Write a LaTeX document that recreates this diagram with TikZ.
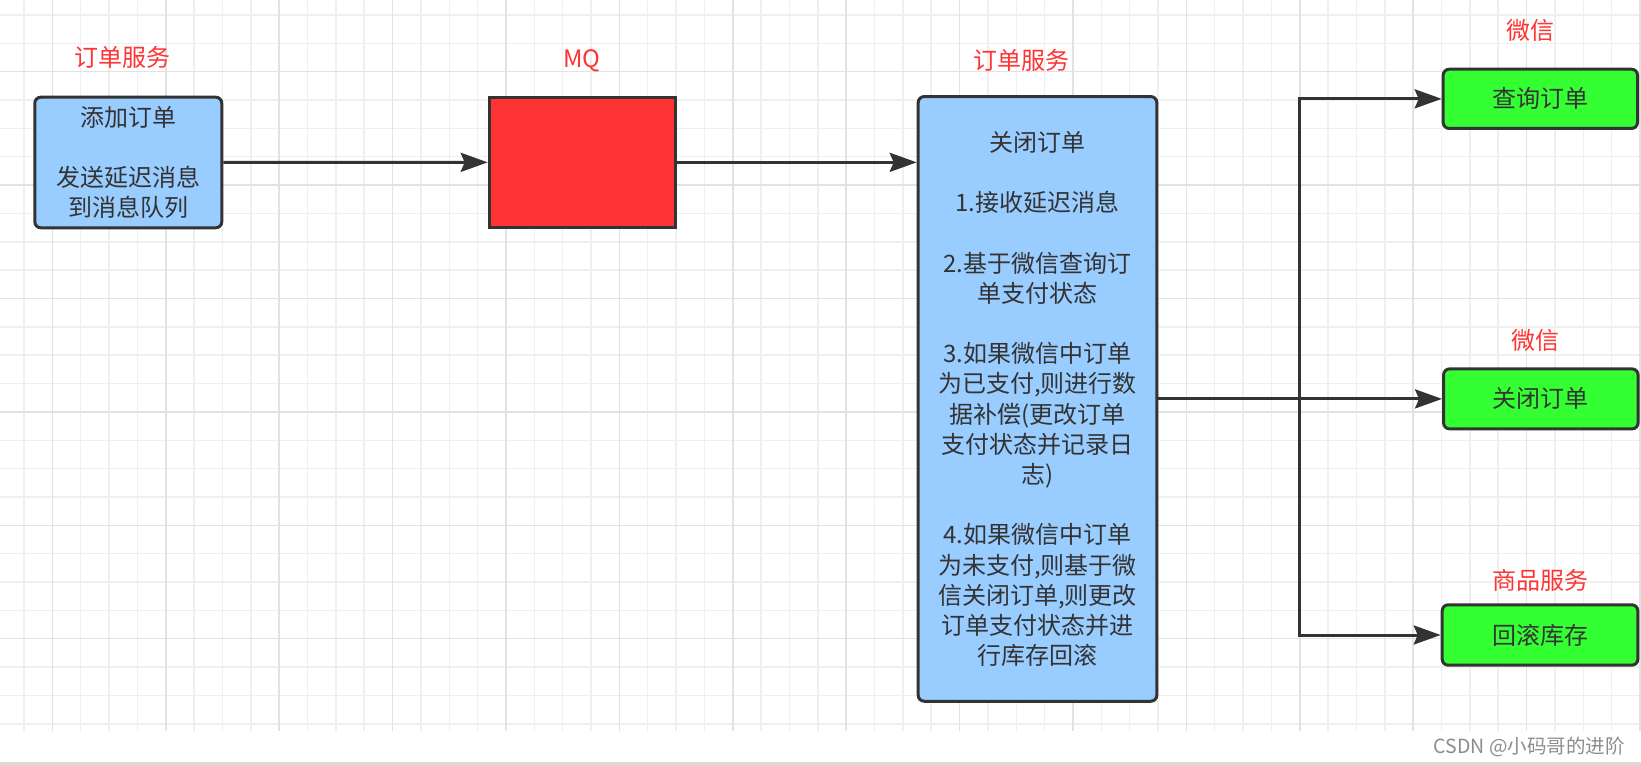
\documentclass[tikz,border=0pt]{standalone}
\usepackage{fontspec}
\setmainfont{Noto Sans CJK SC}
\usetikzlibrary{arrows.meta}
\definecolor{gridminor}{HTML}{EFEFEF}
\definecolor{gridmajor}{HTML}{E2E2E2}
\definecolor{strokecol}{HTML}{333333}
\definecolor{lblred}{HTML}{FF3333}
\definecolor{boxblue}{HTML}{99CCFF}
\definecolor{boxgreen}{HTML}{33FF33}
\definecolor{mqred}{HTML}{FF3333}
\definecolor{wmgray}{HTML}{8C8C8C}
\definecolor{bottomline}{HTML}{DADADA}
\begin{document}
\begin{tikzpicture}[x=1pt,y=-1pt,
  every node/.style={inner sep=0pt},
  lbl/.style={text=lblred, font=\fontsize{24}{29}\selectfont},
  bluebox/.style={draw=strokecol, line width=3pt, fill=boxblue, rounded corners=6pt,
    text=strokecol, align=center, font=\fontsize{24}{30.2}\selectfont},
  greenbox/.style={draw=strokecol, line width=3pt, fill=boxgreen, rounded corners=6pt,
    text=strokecol, font=\fontsize{24}{29}\selectfont},
  mqbox/.style={draw=strokecol, line width=3pt, fill=mqred},
  conn/.style={draw=strokecol, line width=3pt,
    -{Stealth[length=27pt,width=19pt,inset=4pt]}},
  gminor/.style={draw=gridminor, line width=1.5pt},
  gmajor/.style={draw=gridmajor, line width=1.5pt}]
\useasboundingbox (0,0) rectangle (1641,765);
\fill[white] (0,0) rectangle (1641,765);
% grid
\begin{scope}
\clip (0,0) rectangle (1641,730.7);
\foreach \k in {0,...,57} \draw[gminor] ({24+28.35*\k},0) -- ++(0,731);
\foreach \k in {0,...,25} \draw[gminor] (0,{15+28.35*\k}) -- ++(1641,0);
\foreach \k in {0,...,14} \draw[gmajor] ({52.35+113.4*\k},0) -- ++(0,731);
\foreach \k in {0,...,5} \draw[gmajor] (0,{71.7+113.4*\k}) -- ++(1641,0);
\end{scope}
\fill[bottomline] (0,762) rectangle (1641,765);
% labels
\node[lbl] (lblA) at (122.8,57) {订单服务};
\node[lbl] (lblMQ) at (581.7,60.7) {MQ};
\node[lbl] (lblB) at (1021.7,60.5) {订单服务};
\node[lbl] (lblW1) at (1530,30) {微信};
\node[lbl] (lblW2) at (1535.5,340) {微信};
\node[lbl] (lblS) at (1540.7,580.7) {商品服务};
% boxes
\node[bluebox, minimum width=187, minimum height=130.6] (add) at (128.3,162.5)
  {添加订单\\[30.2pt]发送延迟消息\\到消息队列};
\node[mqbox, minimum width=186.6, minimum height=130.3] (mq) at (582.5,162.35) {};
\node[bluebox, minimum width=238.6, minimum height=604.7] (close) at (1037.5,398.9)
  {关闭订单\\[30.2pt]
   1.接收延迟消息\\[30.2pt]
   2.基于微信查询订\\单支付状态\\[30.2pt]
   3.如果微信中订单\\为已支付,则进行数\\据补偿(更改订单\\支付状态并记录日\\志)\\[30.2pt]
   4.如果微信中订单\\为未支付,则基于微\\信关闭订单,则更改\\订单支付状态并进\\行库存回滚};
\node[greenbox, minimum width=194.3, minimum height=59.3] (q) at (1540.35,98.85) {查询订单};
\node[greenbox, minimum width=194.5, minimum height=60] (c) at (1540.8,398.9) {关闭订单};
\node[greenbox, minimum width=195.6, minimum height=60.4] (r) at (1540,635) {回滚库存};
% connectors
\draw[conn] (add.east) -- (mq.west);
\draw[conn] (mq.east) -- (mq.east -| close.west);
\coordinate (j) at (1299.3,398.9);
\draw[conn] (close.east) -- (c.west);
\draw[conn] (j) |- (q.west);
\draw[conn] (j) |- (r.west);
% watermark
\node[text=wmgray, font=\fontsize{19.5}{22}\selectfont, anchor=east] (wmk) at (1625,746.7) {CSDN @小码哥的进阶};
\end{tikzpicture}
\end{document}
